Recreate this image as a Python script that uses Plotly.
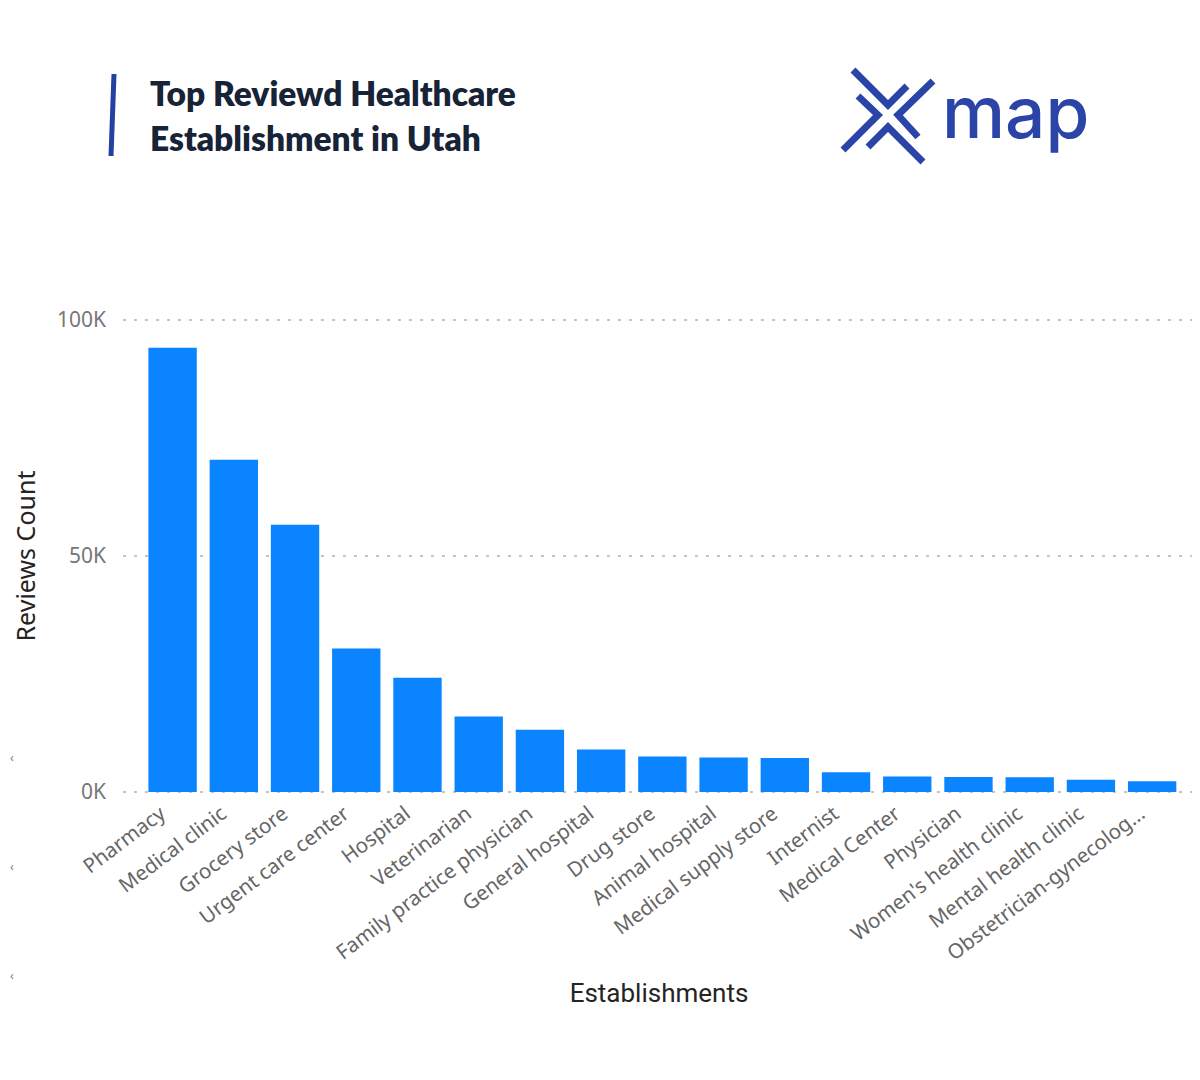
import plotly.graph_objects as go

# Données (nombre d'avis par type d'établissement)
categories = [
    "Pharmacy", "Medical clinic", "Grocery store", "Urgent care center",
    "Hospital", "Veterinarian", "Family practice physician", "General hospital",
    "Drug store", "Animal hospital", "Medical supply store", "Internist",
    "Medical Center", "Physician", "Women's health clinic",
    "Mental health clinic", "Obstetrician-gynecolog...",
]
reviews = [
    94100, 70400, 56600, 30400,
    24200, 16000, 13200, 9000,
    7500, 7300, 7200, 4200,
    3300, 3200, 3100,
    2600, 2300,
]
y_tick_vals = [0, 50000, 100000]
y_tick_text = ["0K", "50K", "100K"]

# la page ajoute ~8px de marge, on travaille en coordonnées de la capture
OFF = 8
W, H = 1200 - OFF, 1080 - OFF
ML, MR, MT, MB = 115, 5, 307, 283
PAD_PX = 5
PAD_V = PAD_PX / (H - MT - MB - 2 * PAD_PX) * 100000


def px(x):
    return (x - OFF - ML) / (W - ML - MR)


def py(y):
    return (H - MB - (y - OFF)) / (H - MT - MB)


def path(points):
    return "M " + " L ".join(f"{px(x):.5f},{py(y):.5f}" for x, y in points)


BAR_BLUE = "#0A85FF"
LOGO_BLUE = "#2B44A7"

fig = go.Figure(go.Bar(
    x=categories,
    y=reviews,
    marker=dict(color=BAR_BLUE, line=dict(width=0)),
))

fig.update_layout(
    width=W, height=H,
    margin=dict(l=ML, r=MR, t=MT, b=MB, autoexpand=False),
    paper_bgcolor="white",
    plot_bgcolor="white",
    bargap=0.21,
    showlegend=False,
    font=dict(family="Noto Sans", color="#605E5C"),
)

fig.update_xaxes(
    range=[-0.81, 16.7],
    tickangle=-37,
    tickfont=dict(size=20.5, color="#666666"),
    ticklabelshift=-12,
    showgrid=False, showline=False, zeroline=False,
    title=dict(text="Establishments", standoff=18,
               font=dict(family="Roboto", size=26, color="#252423")),
    automargin=False,
)

fig.update_yaxes(
    range=[-PAD_V, 100000 + PAD_V],
    tickvals=y_tick_vals,
    ticktext=y_tick_text,
    tickfont=dict(size=21, color="#777777"),
    ticklabelstandoff=16,
    showgrid=True, gridcolor="#C8C6C4", gridwidth=1.5, griddash="3px,8px",
    zeroline=False, showline=False,
    title=dict(text="Reviews Count", standoff=24,
               font=dict(family="Noto Sans", size=25, color="#252423")),
    automargin=False,
)

# titre
fig.add_annotation(
    x=px(148), y=py(93), xref="paper", yref="paper",
    xanchor="left", yanchor="middle", showarrow=False,
    text="Top Reviewd Healthcare",
    font=dict(family="Lato", size=33.5, color="#172336", weight=800),
)
fig.add_annotation(
    x=px(148), y=py(138), xref="paper", yref="paper",
    xanchor="left", yanchor="middle", showarrow=False,
    text="Establishment in Utah",
    font=dict(family="Lato", size=33.5, color="#172336", weight=800),
)
fig.add_shape(
    type="line", xref="paper", yref="paper",
    x0=px(114), y0=py(74), x1=px(111), y1=py(156),
    line=dict(color="#2440A0", width=5),
)

# logo xmap
chevrons = [
    [(853, 70), (888, 105), (907, 86)],
    [(933, 81), (898, 115), (918, 137)],
    [(868, 147), (888, 127), (923, 162)],
    [(858, 96), (878, 115), (843, 150)],
]
for pts in chevrons:
    fig.add_shape(
        type="path", xref="paper", yref="paper", path=path(pts),
        line=dict(color=LOGO_BLUE, width=7),
    )
fig.add_annotation(
    x=px(940), y=py(112), xref="paper", yref="paper",
    xanchor="left", yanchor="middle", showarrow=False,
    text="map",
    font=dict(family="Inter", size=71, color=LOGO_BLUE, weight=500),
)

# petits restes de capture sur le bord gauche
for yy in [757, 866, 975]:
    fig.add_annotation(
        x=px(OFF), y=py(yy), xref="paper", yref="paper",
        xanchor="left", yanchor="middle", showarrow=False,
        text="‹", font=dict(size=12, color="#6A7BA8"),
    )

fig.write_html("out.html")
